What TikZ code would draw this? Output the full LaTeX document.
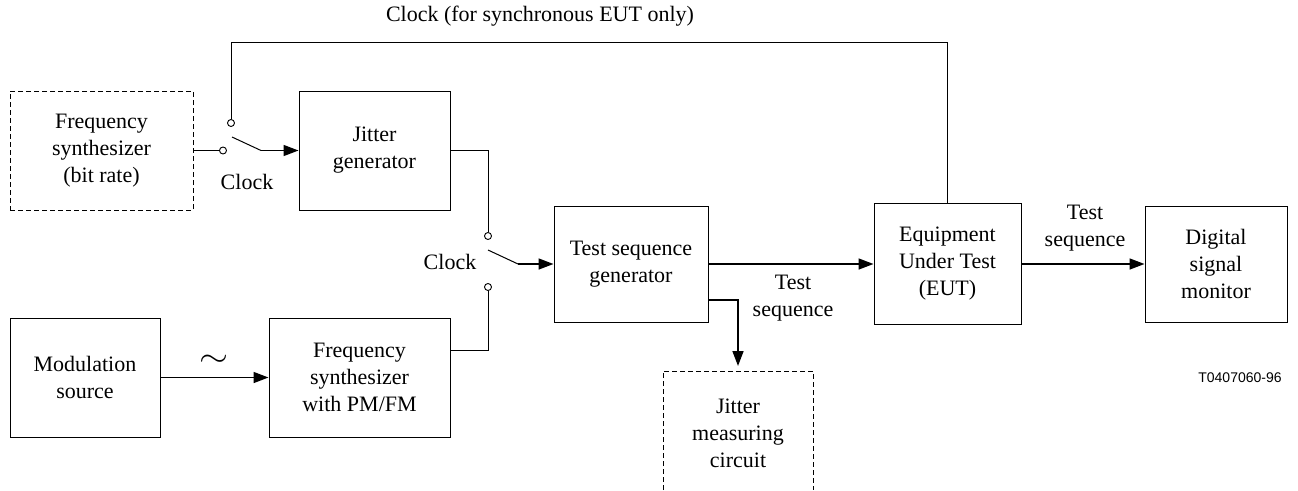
\documentclass[tikz,border=0pt]{standalone}
\usepackage{fontspec}
\setmainfont{Liberation Serif}
\newfontfamily\figidfont{Liberation Sans}
\usetikzlibrary{arrows.meta,positioning,calc}
\tikzstyle{blk}=[draw,line width=1pt,align=center,inner sep=2pt]
\tikzstyle{dblk}=[blk,dash pattern=on 5pt off 3pt]
\tikzstyle{swc}=[circle,draw,fill=white,inner sep=0pt,minimum size=7pt,line width=0.9pt]
\tikzstyle{wire}=[line width=1pt]
\tikzstyle{sig}=[line width=1.6pt,-{Triangle[length=15pt,width=11pt]}]

\begin{document}
\begin{tikzpicture}[x=1pt,y=-1pt,font=\fontsize{22}{27}\selectfont,align=center]
\useasboundingbox (0,0) rectangle (1298,490);

% blocks
\node[dblk,minimum width=183pt,minimum height=119pt] (fsyn) at (101.5,150.5) {Frequency\\synthesizer\\(bit rate)};
\node[blk,minimum width=151pt,minimum height=119pt] (jgen) at (374.5,150.5) {Jitter\\generator};
\node[blk,minimum width=150pt,minimum height=119pt] (mod) at (85,377.5) {Modulation\\source};
\node[blk,minimum width=181pt,minimum height=119pt] (fpm) at (359.5,377.5) {Frequency\\synthesizer\\with PM/FM};
\node[blk,minimum width=154pt,minimum height=116pt] (tsg) at (631,264) {Test sequence\\generator};
\node[blk,minimum width=147pt,minimum height=121pt] (eut) at (947.5,264) {Equipment\\Under Test\\(EUT)};
\node[blk,minimum width=142pt,minimum height=116pt] (dsm) at (1216,264) {Digital\\signal\\monitor};
\node (jmc) at (738,433) {Jitter\\measuring\\circuit};
\coordinate (jmcBL) at (663,490);
\coordinate (jmcTL) at (663,371);
\coordinate (jmcT) at (738,371);
\coordinate (jmcTR) at (813,371);
\coordinate (jmcBR) at (813,490);
\draw[wire,dash pattern=on 5pt off 3pt] (jmcBL) -- (jmcTL) -- (jmcTR) -- (jmcBR);

% clock switch 1
\node[swc] (swA1) at (223,150.5) {};
\node[swc] (swA2) at (231,123) {};
\coordinate (bladeA) at (232,137);
\coordinate (pivA) at (261,150.5);
\draw[wire] (fsyn.east) -- (swA1.west);
\draw[wire] (bladeA) -- (pivA);
\draw[sig] (pivA) -- (jgen.west);
\node (clkA) at (247,182) {Clock};

% clock switch 2
\node[swc] (swB1) at (488,236) {};
\node[swc] (swB2) at (488,287) {};
\coordinate (bladeB) at (488,250);
\coordinate (pivB) at (518,264);
\draw[wire] (jgen.east) -| (swB1.north);
\draw[wire] ([yshift=27.5pt]fpm.east) -| (swB2.south);
\draw[wire] (bladeB) -- (pivB);
\draw[sig] (pivB) -- (tsg.west);
\node (clkB) at (450,262) {Clock};

% clock to EUT
\coordinate (clkTop) at (231,42);
\draw[wire] (swA2.north) -- (clkTop) -| (eut.north);
\node (clkEut) at (540,16) {Clock (for synchronous EUT only)};

% signals
\node (tilde) at (214,361) {\scalebox{1.8}[1.5]{$\sim$}};
\draw[sig] (mod.east) -- (fpm.west);
\draw[sig] (tsg.east) -- (eut.west);
\draw[sig,shorten >=5pt] ([yshift=-36pt]tsg.east) -| (jmcT);
\node (tsA) at (793,298) {Test\\sequence};
\draw[sig] (eut.east) -- (dsm.west);
\node (tsB) at (1085,228) {Test\\sequence};

\node[font=\figidfont\fontsize{14}{16}\selectfont] (figid) at (1240,378) {T0407060-96};

\end{tikzpicture}
\end{document}
